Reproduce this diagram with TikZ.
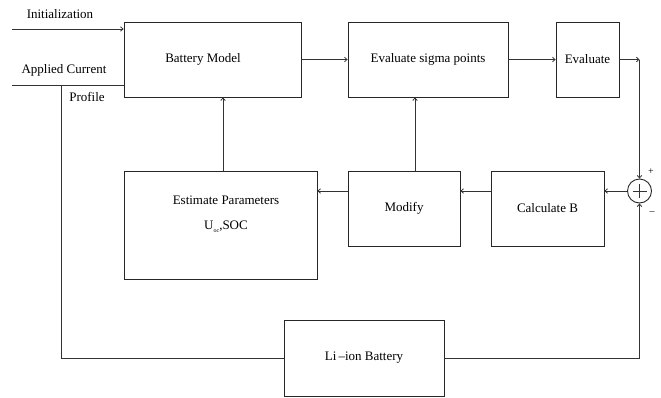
\documentclass[tikz,border=0pt]{standalone}
\usepackage{fontspec}
\setmainfont{Liberation Serif}
\usetikzlibrary{arrows.meta}
\begin{document}
\begin{tikzpicture}[x=1pt,y=-1pt,
  every node/.style={font=\fontsize{13}{15}\selectfont, inner sep=0pt},
  blk/.style={draw=black!85, line width=0.8pt, rectangle, anchor=center},
  conn/.style={draw=black!80, line width=0.8pt},
  arr/.style={conn, -{Straight Barb[length=2.5pt,width=4.5pt]}},
  lbl/.style={anchor=center}]
\useasboundingbox (0,0) rectangle (661,397);
% blocks
\node[blk, minimum width=177pt, minimum height=75pt] (bm) at (212.5,59.5) {};
\node[lbl] (bmt) at (203,59.5) {Battery Model};
\node[blk, minimum width=160pt, minimum height=75pt] (sig) at (428,59.5) {Evaluate sigma points};
\node[blk, minimum width=63pt, minimum height=75pt] (ev) at (587.5,59.5) {Evaluate};
\node[blk, minimum width=193pt, minimum height=108pt] (est) at (220.5,225) {};
\node[lbl] (estt) at (226,200) {Estimate Parameters};
\node[lbl] (estu) at (226,227) {U\raisebox{-3pt}{\fontsize{6}{7}\selectfont oc},SOC};
\node[blk, minimum width=112pt, minimum height=75pt] (mod) at (404,208.5) {Modify};
\node[blk, minimum width=113pt, minimum height=75pt] (calc) at (547.5,208.5) {Calculate B};
\node[blk, minimum width=160pt, minimum height=76pt] (li) at (364,358) {Li\,--ion Battery};
\node[draw=black!85, line width=0.9pt, circle, minimum size=24pt] (sum) at (639.5,191) {};
\draw[conn, line width=1pt] ([xshift=-7pt]sum.center) -- ([xshift=7pt]sum.center);
\draw[conn, line width=1pt] ([yshift=-7pt]sum.center) -- ([yshift=7pt]sum.center);
\node[lbl, font=\fontsize{10}{11}\selectfont] (plus) at (651,172) {+};
\node[lbl, font=\fontsize{10}{11}\selectfont] (minus) at (652,213) {--};
% input texts
\node[lbl] (init) at (60,14) {Initialization};
\node[lbl] (appl) at (64,70) {Applied Current};
\node[lbl] (prof) at (87,97) {Profile};
% inputs
\coordinate (in1) at (12,29);
\coordinate (in2) at (12,85);
\coordinate (j1) at (61,85);
\coordinate (j2) at (61,358);
\draw[arr] (in1) -- (in1 -| bm.west);
\draw[conn] (in2) -- (in2 -| bm.west);
\draw[conn] (j1) -- (j2) -- (li.west);
% forward chain
\draw[arr] (bm.east) -- (sig.west);
\draw[arr] (sig.east) -- (ev.west);
\coordinate (c1) at (639.5,59.5);
\draw[arr] (ev.east) -- (c1);
\draw[arr] (c1) -- (sum.north);
% feedback
\coordinate (c2) at (639.5,358);
\draw[conn] (li.east) -- (c2);
\draw[arr] (c2) -- (sum.south);
\draw[arr] (sum.west) -- (sum.west -| calc.east);
\draw[arr] (calc.west |- sum.west) -- (mod.east |- sum.west);
\draw[arr] (mod.west |- sum.west) -- (est.east |- sum.west);
\draw[arr] ([xshift=11pt]mod.north) -- ([xshift=11pt]mod.north |- sig.south);
\draw[arr] ([xshift=2.5pt]est.north) -- ([xshift=2.5pt]est.north |- bm.south);
\end{tikzpicture}
\end{document}
